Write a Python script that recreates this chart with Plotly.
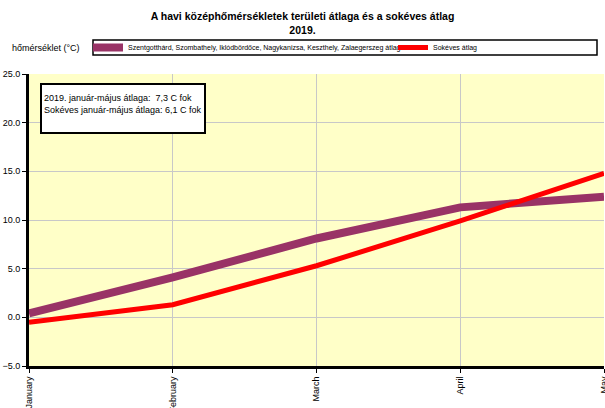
import plotly.graph_objects as go

months = ["January", "February", "March", "April", "May"]
regional_avg = [0.4, 4.1, 8.1, 11.3, 12.4]
longterm_avg = [-0.5, 1.3, 5.3, 9.9, 14.8]
y_ticks = [-5, 0, 5, 10, 15, 20, 25]

name1 = "Szentgotthárd, Szombathely, Iklódbördőce, Nagykanizsa, Keszthely, Zalaegerszeg átlaga"
name2 = "Sokéves átlag"

FONT = "Liberation Sans, Arial, sans-serif"

W, H = 605, 408
L, R, T, B = 29, 1, 74, 42
pw = W - L - R
ph = H - T - B


def px2x(px):
    # screen pixel -> paper coordinate
    return (px - L) / pw


def py2y(py):
    return (H - B - py) / ph


fig = go.Figure()
fig.add_trace(go.Scatter(x=months, y=regional_avg, mode="lines", name=name1,
                         line=dict(color="#993366", width=8), legend="legend"))
fig.add_trace(go.Scatter(x=months, y=longterm_avg, mode="lines", name=name2,
                         line=dict(color="#ff0000", width=5), legend="legend2"))

leg_common = dict(orientation="h", yanchor="middle", xanchor="left",
                  bgcolor="rgba(0,0,0,0)", font=dict(size=7, family=FONT),
                  itemwidth=30)

fig.update_layout(
    width=W, height=H,
    margin=dict(l=L, r=R, t=T, b=B, autoexpand=False),
    paper_bgcolor="white",
    plot_bgcolor="#ffffc8",
    font=dict(family=FONT, size=9, color="black"),
    title=dict(text="<b>A havi középhőmérsékletek területi átlaga és a sokéves átlag<br>2019.</b>",
               x=0.5, xanchor="center", y=0.95, yanchor="top",
               font=dict(size=10.5, family=FONT)),
    showlegend=True,
    legend=dict(x=px2x(88), y=py2y(47.5), **leg_common),
    legend2=dict(x=px2x(393), y=py2y(47.5), **leg_common),
    xaxis=dict(type="category", range=[0, 4], showgrid=True, gridcolor="#c8c8c8", gridwidth=1,
               showline=True, linecolor="black", linewidth=3, mirror=False,
               ticks="outside", ticklen=4, tickcolor="black", tickangle=-90,
               tickfont=dict(size=9), zeroline=False, automargin=False),
    yaxis=dict(range=[-5, 25], tickvals=y_ticks, tickformat=".1f",
               showgrid=True, gridcolor="#c8c8c8", gridwidth=1,
               showline=True, linecolor="black", linewidth=3,
               ticks="outside", ticklen=4, tickcolor="black",
               tickfont=dict(size=9), zeroline=False, automargin=False),
    shapes=[
        dict(type="rect", xref="paper", yref="paper",
             x0=px2x(93), x1=px2x(597), y0=py2y(55), y1=py2y(40),
             line=dict(color="black", width=1.5), fillcolor="white", layer="below"),
        dict(type="rect", xref="paper", yref="paper",
             x0=px2x(41), x1=px2x(205), y0=py2y(133), y1=py2y(84),
             line=dict(color="black", width=2), fillcolor="white", layer="above"),
    ],
    annotations=[
        dict(text="hőmérséklet (°C)", xref="paper", yref="paper",
             x=px2x(10), y=py2y(48), xanchor="left", yanchor="middle",
             showarrow=False, font=dict(size=9, family=FONT)),
        dict(text="2019. január-május átlaga:  7,3 C fok<br>Sokéves január-május átlaga: 6,1 C fok",
             xref="paper", yref="paper", x=px2x(42), y=py2y(91),
             xanchor="left", yanchor="top", align="left", showarrow=False,
             font=dict(size=9, family=FONT)),
    ],
)

fig.write_html("out.html",
               config={"displayModeBar": False},
               post_script="document.body.style.margin='0';document.body.style.padding='0';"
                           "document.body.style.overflow='hidden';")
